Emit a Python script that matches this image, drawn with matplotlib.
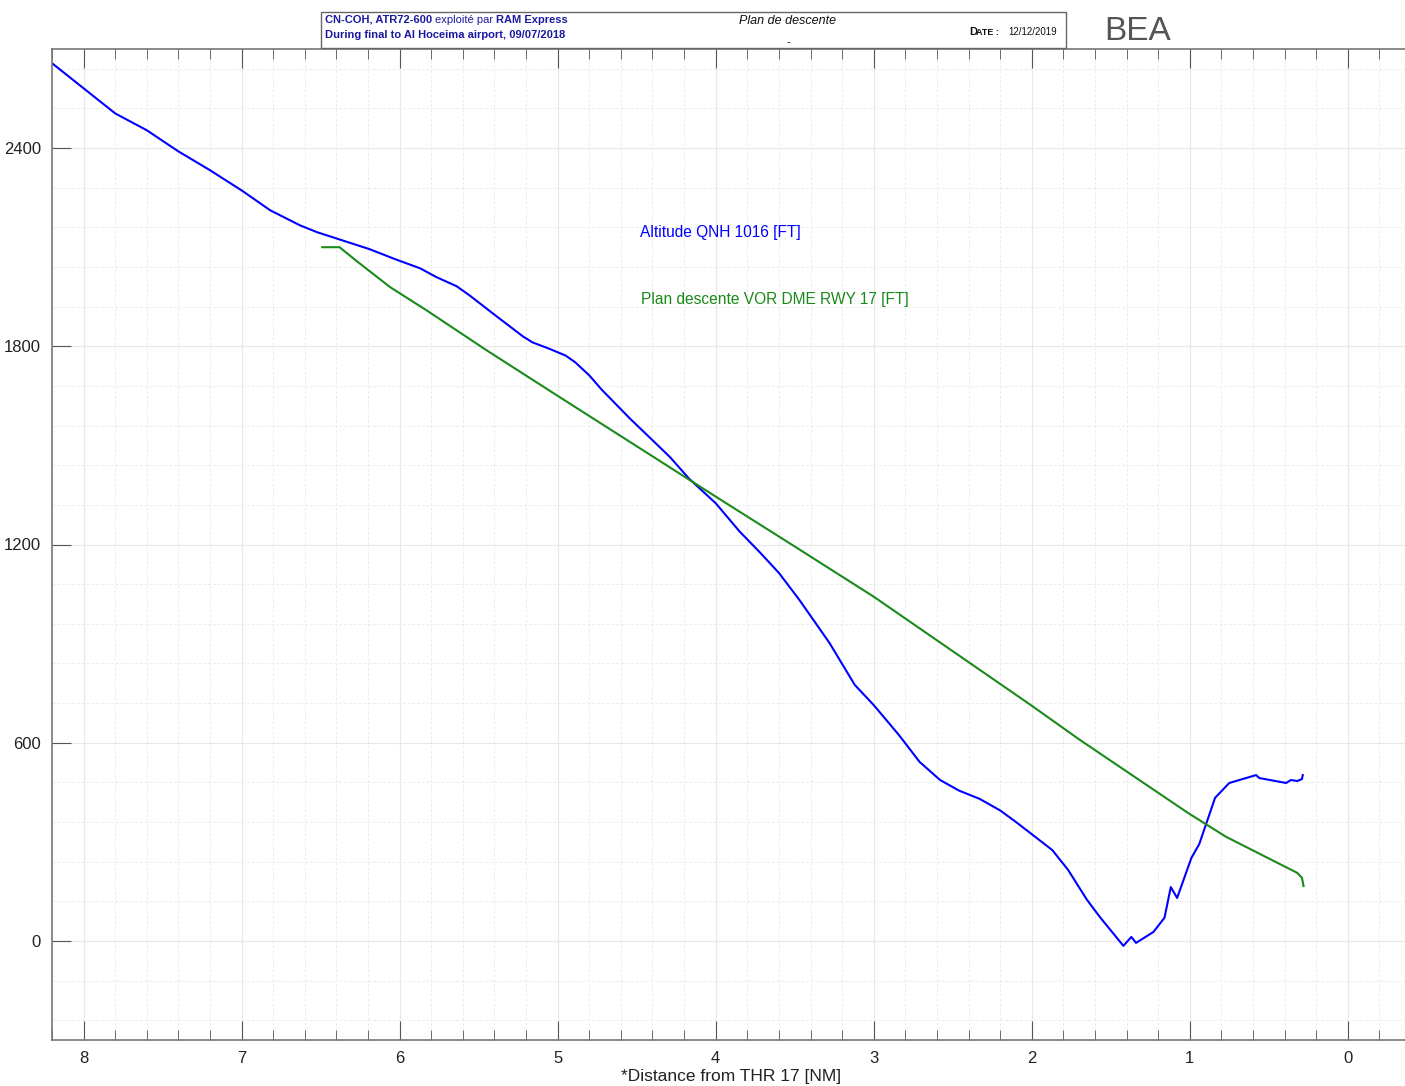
# coding: utf-8
# Plan de descente - Al Hoceima RWY 17
import matplotlib
matplotlib.use('Agg')
from matplotlib import pyplot as plt
from matplotlib.patches import Rectangle
import numpy as np

# altitude QNH 1016 [FT] vs distance from THR 17 [NM]
alt_dist = [8.20, 8.00, 7.80, 7.60, 7.40, 7.20, 7.00, 6.82, 6.63, 6.52, 6.19, 6.03,
            5.87, 5.77, 5.64, 5.56, 5.39, 5.22, 5.16, 5.05, 4.95, 4.89, 4.80, 4.72,
            4.54, 4.42, 4.29, 4.17, 4.00, 3.85, 3.72, 3.60, 3.47, 3.28, 3.12, 3.00,
            2.84, 2.71, 2.58, 2.46, 2.33, 2.20, 2.10, 1.87, 1.77, 1.65, 1.57, 1.42,
            1.37, 1.34, 1.23, 1.16, 1.12, 1.08, 0.99, 0.94, 0.84, 0.75, 0.58, 0.56,
            0.39, 0.36, 0.32, 0.29, 0.285]
alt_ft = [2657, 2581, 2505, 2454, 2390, 2333, 2272, 2212, 2166, 2145, 2094, 2064,
          2036, 2010, 1982, 1955, 1892, 1830, 1812, 1792, 1772, 1752, 1712, 1668,
          1580, 1525, 1465, 1400, 1325, 1240, 1176, 1114, 1032, 902, 775, 714,
          623, 542, 487, 455, 430, 395, 360, 275, 215, 124, 73, -15,
          12, -6, 27, 70, 163, 130, 251, 293, 433, 478, 502, 493,
          478, 487, 484, 490, 502]

# plan descente VOR DME RWY 17 [FT]
plan_dist = [6.49, 6.38, 6.28, 6.06, 5.83, 5.45, 5.00, 4.00, 3.50, 3.00, 2.00, 1.70,
             1.01, 0.77, 0.32, 0.29, 0.28]
plan_ft = [2100, 2100, 2061, 1979, 1909, 1788, 1650, 1345, 1194, 1042, 712, 610,
           387, 315, 206, 191, 166]

y_ticks = [0, 600, 1200, 1800, 2400]
x_ticks = [8, 7, 6, 5, 4, 3, 2, 1, 0]

BLUE = '#0000ff'
GREEN = '#1a8a1a'
NAVY = '#1a1aa0'


def main():
    plt.rcParams['font.family'] = ['Liberation Sans', 'DejaVu Sans']
    fig = plt.figure(figsize=(14.05, 10.86), dpi=100)
    ax = fig.add_axes([52 / 1405, 1 - 1040 / 1086, (1411 - 52) / 1405, (1040 - 49) / 1086])

    ax.plot(alt_dist, alt_ft, color=BLUE, lw=1.5)
    ax.plot(plan_dist, plan_ft, color=GREEN, lw=1.5)

    ax.set_xlim(8.2, -0.4)
    ax.set_ylim(-300, 2700)

    ax.set_xticks(x_ticks)
    ax.set_xticks(np.arange(-0.4, 8.21, 0.2), minor=True)
    ax.set_yticks(y_ticks)
    ax.set_yticks(np.arange(-240, 2700, 120), minor=True)
    ax.tick_params(axis='x', which='major', direction='in', length=14, top=True,
                   labelsize=12, labelcolor='#222222', color='#555555', pad=8)
    ax.tick_params(axis='x', which='minor', direction='in', length=7, top=True,
                   color='#555555')
    ax.tick_params(axis='y', which='major', direction='in', length=14, right=False,
                   labelsize=12, labelcolor='#222222', color='#555555', pad=8)
    ax.tick_params(axis='y', which='minor', length=0)

    ax.grid(which='major', color='#e8e8e8', lw=0.8, ls='-')
    ax.grid(which='minor', color='#ececec', lw=0.7, ls=(0, (3, 2)))
    ax.set_axisbelow(True)
    for s in ['left', 'bottom', 'top']:
        ax.spines[s].set_color('#777777')
        ax.spines[s].set_linewidth(1.2)
    ax.spines['right'].set_visible(False)

    ax.set_xlabel('*Distance from THR 17 [NM]', fontsize=12.5, color='#222222', labelpad=2)

    ax.text(4.48, 2145, 'Altitude QNH 1016 [FT]', color=BLUE, fontsize=11.2, va='center')
    ax.text(4.475, 1942, 'Plan descente VOR DME RWY 17 [FT]', color=GREEN, fontsize=11.2,
            va='center')

    # cartouche
    fig.patches.append(Rectangle((321 / 1405, 1 - 48 / 1086), (1066 - 321) / 1405,
                                 36 / 1086, transform=fig.transFigure, fill=False,
                                 edgecolor='#666666', lw=1.0))
    fx = lambda px: px / 1405
    fy = lambda py: 1 - py / 1086
    t = fig.text(fx(325), fy(20), 'CN-COH, ATR72-600', color=NAVY, fontsize=8,
                 fontweight='bold', va='center')
    fig.canvas.draw()
    bb = t.get_window_extent()
    t2 = fig.text(bb.x1 / 1405 + 0.002, fy(20), 'exploité par', color=NAVY, fontsize=8,
                  va='center')
    fig.canvas.draw()
    bb2 = t2.get_window_extent()
    fig.text(bb2.x1 / 1405 + 0.002, fy(20), 'RAM Express', color=NAVY, fontsize=8,
             fontweight='bold', va='center')
    fig.text(fx(325), fy(35), 'During final to Al Hoceima airport, 09/07/2018', color=NAVY,
             fontsize=8, fontweight='bold', va='center')
    fig.text(fx(788), fy(21), 'Plan de descente', fontsize=9, style='italic',
             ha='center', va='center', color='#111111')
    fig.text(fx(788), fy(42), '-', fontsize=8, ha='center', va='center', color='#111111')
    fig.text(fx(969), fy(32), 'D', fontsize=8, fontweight='bold', va='center', color='#111111')
    fig.text(fx(976), fy(32.5), 'ATE :', fontsize=6.5, fontweight='bold', va='center',
             color='#111111')
    fig.text(fx(1008), fy(32), '12/12/2019', fontsize=7, va='center', color='#111111')
    fig.text(fx(1104), fy(32), 'BEA', fontsize=24, va='center', color='#555555')

    fig.savefig('out.png', dpi=100)


if __name__ == '__main__':
    main()
